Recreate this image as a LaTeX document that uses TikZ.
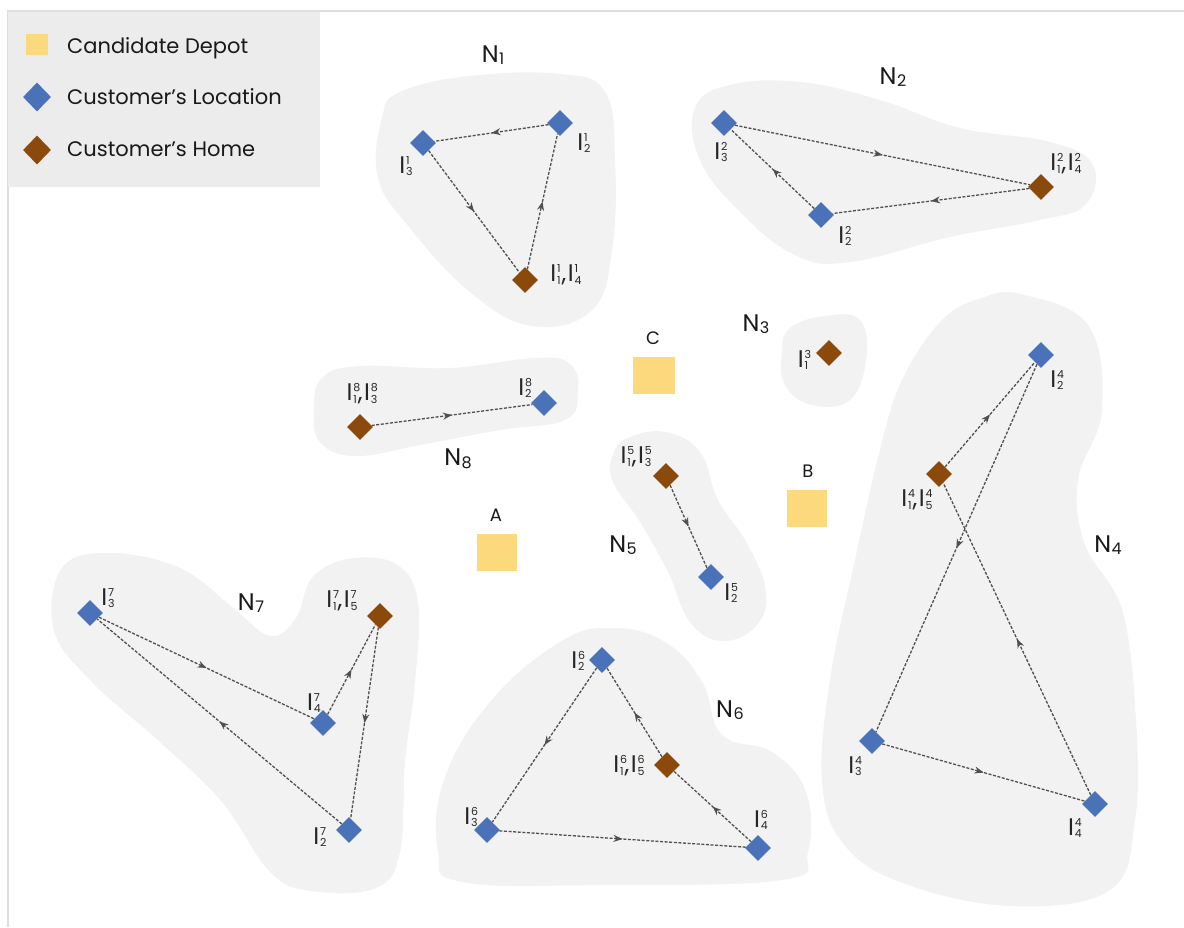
\documentclass[tikz,border=0pt]{standalone}
\usepackage{fontspec}
\setmainfont{Poppins}
\usetikzlibrary{shapes.geometric,arrows.meta,decorations.markings}
\definecolor{locblue}{HTML}{4A72B8}
\definecolor{homebrown}{HTML}{8B4A0C}
\definecolor{depotyellow}{HTML}{FDD97E}
\definecolor{blobgray}{HTML}{F2F2F2}
\definecolor{legbg}{HTML}{ECECEC}
\definecolor{routegray}{HTML}{505050}
\definecolor{frameline}{HTML}{DDDDDD}
\newcommand\scr{\fontsize{11}{11}\selectfont}
\newcommand\Iab[2]{I\kern0.8pt{\scr\rlap{\raisebox{9pt}{#1}}\raisebox{-2.5pt}{#2}}}
\newcommand\Icomma{\kern1pt,\kern1.5pt}
\newcommand\Nlab[1]{N\kern0.5pt{\fontsize{16}{16}\selectfont\raisebox{-2.5pt}{#1}}}
\begin{document}
\begin{tikzpicture}[x=1pt,y=-1pt,
  loc/.style={diamond, aspect=1, fill=locblue, inner sep=0pt, minimum width=26pt, minimum height=26pt},
  home/.style={loc, fill=homebrown},
  depotbox/.style={rectangle, fill=depotyellow, minimum width=40pt, minimum height=37pt, inner sep=0pt},
  lab/.style={font=\fontsize{24}{24}\selectfont, inner sep=0pt, text=black!85},
  nlab/.style={font=\fontsize{24}{24}\selectfont, inner sep=0pt, text=black!90},
  dlab/.style={font=\fontsize{18}{18}\selectfont, inner sep=0pt, text=black!90},
  legtext/.style={font=\fontsize{21}{21}\selectfont, anchor=base west, inner sep=0pt, text=black!90},
  blob/.style={fill=blobgray},
  rte/.style={draw=routegray, line width=1.3pt, dash pattern=on 3pt off 1.6pt,
    postaction={decorate},
    decoration={markings, mark=at position 0.5 with {\arrow{Stealth[length=9pt,width=7pt]}}}}
]
\useasboundingbox (0,0) rectangle (1184,927);
\fill[white] (0,0) rectangle (1184,927);
\draw[frameline, line width=1.5pt] (8,927) -- (8,11) -- (1184,11);

% legend
\fill[legbg] (8,12) rectangle (320,187);
\node[depotbox, minimum width=22pt, minimum height=21pt] (legD) at (37,44) {};
\node[loc, minimum width=28pt, minimum height=29pt] (legL) at (37,97) {};
\node[home, minimum width=28pt, minimum height=29pt] (legH) at (37,150) {};
\node[legtext] (legDt) at (67,53) {Candidate Depot};
\node[legtext] (legLt) at (67,104) {Customer’s Location};
\node[legtext] (legHt) at (67,156) {Customer’s Home};

% blobs
\fill[blob] plot[smooth cycle, tension=0.7] coordinates {(400,92) (470,76) (560,74) (605,92) (615,160) (612,250) (592,310) (532,326) (470,292) (410,228) (378,178) (382,118)};
\fill[blob] plot[smooth cycle, tension=0.7] coordinates {(695,108) (730,85) (800,82) (880,100) (960,128) (1050,142) (1093,165) (1085,205) (1040,220) (950,237) (850,262) (795,255) (740,212) (700,160)};
\fill[blob] plot[smooth cycle, tension=0.7] coordinates {(790,328) (825,316) (860,320) (866,360) (850,400) (812,405) (785,385) (782,352)};
\fill[blob] plot[smooth cycle, tension=0.7] coordinates {(322,378) (360,366) (450,368) (535,358) (570,364) (578,392) (565,420) (500,430) (420,445) (355,456) (320,442) (314,410)};
\fill[blob] plot[smooth cycle, tension=0.7] coordinates {(628,438) (665,432) (700,452) (718,500) (748,545) (766,592) (756,626) (722,641) (690,622) (668,572) (640,522) (613,482) (613,455)};
\fill[blob] plot[smooth cycle, tension=0.7] coordinates {(560,642) (612,628) (665,642) (702,682) (722,735) (772,752) (806,792) (808,852) (782,880) (600,885) (462,882) (438,852) (444,780) (490,702)};
\fill[blob] plot[smooth cycle, tension=0.65] coordinates {(62,568) (110,553) (180,568) (232,607) (270,636) (296,618) (312,578) (348,559) (396,564) (418,602) (415,682) (405,762) (400,852) (376,888) (312,891) (270,872) (222,802) (160,742) (92,682) (54,630)};
\fill[blob] plot[smooth cycle, tension=0.65] coordinates {(1020,294) (1088,325) (1102,410) (1078,480) (1085,545) (1122,610) (1136,720) (1135,820) (1110,890) (1010,906) (900,882) (842,842) (822,780) (830,680) (855,560) (880,450) (902,380) (942,320) (982,298)};

% depots
\node[depotbox, minimum width=42pt] (C) at (654,375) {};
\node[depotbox] (B) at (807,508) {};
\node[depotbox] (A) at (497,552) {};
\node[dlab] (Clab) at (653,338) {C};
\node[dlab] (Blab) at (808,471) {B};
\node[dlab] (Alab) at (496,515) {A};

% N1
\node[home] (h1) at (525,280) {};
\node[loc] (n1b) at (560,123) {};
\node[loc] (n1c) at (423,143) {};
\node[nlab] (N1) at (493,55) {\Nlab{1}};
\node[lab] (l1c) at (406,166) {\Iab{1}{3}};
\node[lab] (l1b) at (584,143) {\Iab{1}{2}};
\node[lab] (l1h) at (566,275) {\Iab{1}{1}\Icomma\Iab{1}{4}};
\draw[rte] (h1) -- (n1b);
\draw[rte] (n1b) -- (n1c);
\draw[rte] (n1c) -- (h1);

% N2
\node[home] (h2) at (1041,187) {};
\node[loc] (n2b) at (821,215) {};
\node[loc] (n2c) at (724,123) {};
\node[nlab] (N2) at (893,77) {\Nlab{2}};
\node[lab] (l2c) at (721,152) {\Iab{2}{3}};
\node[lab] (l2b) at (845,236) {\Iab{2}{2}};
\node[lab] (l2h) at (1066,164) {\Iab{2}{1}\Icomma\Iab{2}{4}};
\draw[rte] (n2c) -- (h2);
\draw[rte] (h2) -- (n2b);
\draw[rte] (n2b) -- (n2c);

% N3
\node[home] (h3) at (829,353) {};
\node[nlab] (N3) at (756,324) {\Nlab{3}};
\node[lab] (l3h) at (803,360) {\Iab{3}{1}};

% N8
\node[home] (h8) at (360,427) {};
\node[loc] (n8b) at (544,403) {};
\node[nlab] (N8) at (458,459) {\Nlab{8}};
\node[lab] (l8h) at (362,394) {\Iab{8}{1}\Icomma\Iab{8}{3}};
\node[lab] (l8b) at (525,388) {\Iab{8}{2}};
\draw[rte] (h8) -- (n8b);

% N5
\node[home] (h5) at (666,476) {};
\node[loc] (n5b) at (711,577) {};
\node[nlab] (N5) at (623,545) {\Nlab{5}};
\node[lab] (l5h) at (636,457) {\Iab{5}{1}\Icomma\Iab{5}{3}};
\node[lab] (l5b) at (731,593) {\Iab{5}{2}};
\draw[rte] (h5) -- (n5b);

% N7
\node[home] (h7) at (380,616) {};
\node[loc] (n7b) at (349,830) {};
\node[loc] (n7c) at (90,613) {};
\node[loc] (n7d) at (323,723) {};
\node[nlab] (N7) at (251,603) {\Nlab{7}};
\node[lab] (l7c) at (108,598) {\Iab{7}{3}};
\node[lab] (l7h) at (342,601) {\Iab{7}{1}\Icomma\Iab{7}{5}};
\node[lab] (l7d) at (314,703) {\Iab{7}{4}};
\node[lab] (l7b) at (320,837) {\Iab{7}{2}};
\draw[rte] (n7c) -- (n7d);
\draw[rte] (n7d) -- (h7);
\draw[rte] (h7) -- (n7b);
\draw[rte] (n7b) -- (n7c);

% N6
\node[home] (h6) at (667,765) {};
\node[loc] (n6b) at (602,660) {};
\node[loc] (n6c) at (487,830) {};
\node[loc] (n6d) at (758,848) {};
\node[nlab] (N6) at (730,710) {\Nlab{6}};
\node[lab] (l6b) at (578,661) {\Iab{6}{2}};
\node[lab] (l6h) at (629,766) {\Iab{6}{1}\Icomma\Iab{6}{5}};
\node[lab] (l6c) at (471,817) {\Iab{6}{3}};
\node[lab] (l6d) at (761,820) {\Iab{6}{4}};
\draw[rte] (n6b) -- (n6c);
\draw[rte] (n6c) -- (n6d);
\draw[rte] (n6d) -- (h6);
\draw[rte] (h6) -- (n6b);

% N4
\node[home] (h4) at (939,474) {};
\node[loc] (n4b) at (1041,355) {};
\node[loc] (n4c) at (872,741) {};
\node[loc] (n4d) at (1095,804) {};
\node[nlab] (N4) at (1108,545) {\Nlab{4}};
\node[lab] (l4b) at (1057,380) {\Iab{4}{2}};
\node[lab] (l4h) at (917,500) {\Iab{4}{1}\Icomma\Iab{4}{5}};
\node[lab] (l4c) at (855,766) {\Iab{4}{3}};
\node[lab] (l4d) at (1075,828) {\Iab{4}{4}};
\draw[rte] (h4) -- (n4b);
\draw[rte] (n4b) -- (n4c);
\draw[rte] (n4c) -- (n4d);
\draw[rte] (n4d) -- (h4);
\end{tikzpicture}
\end{document}
